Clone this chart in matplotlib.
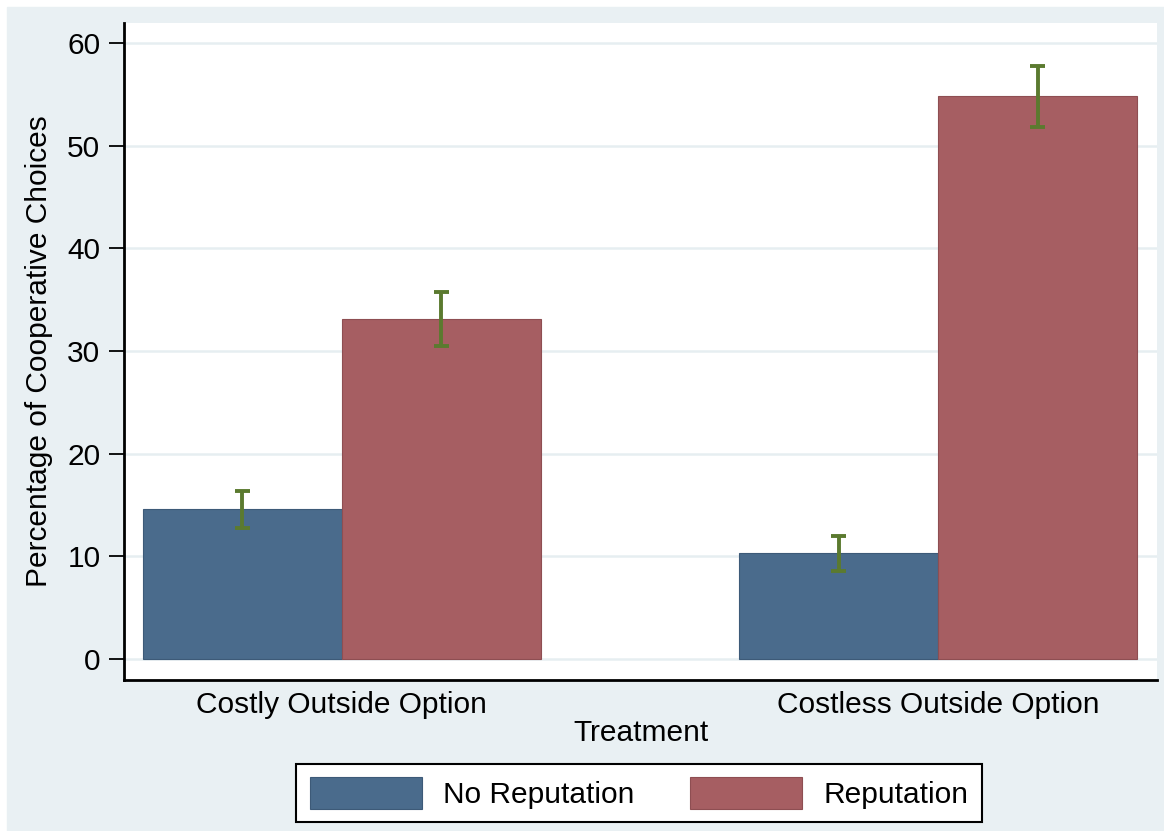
import matplotlib

matplotlib.use("Agg")
import matplotlib.pyplot as plt
from matplotlib.patches import Rectangle

# Mean cooperation rates with confidence bounds per treatment
treatments = ["Costly Outside Option", "Costless Outside Option"]
no_rep_mean = [14.6, 10.3]
no_rep_lo = [12.75, 8.6]
no_rep_hi = [16.4, 12.0]
rep_mean = [33.1, 54.8]
rep_lo = [30.5, 51.8]
rep_hi = [35.7, 57.8]
y_ticks = [0, 10, 20, 30, 40, 50, 60]

BLUE = "#4a6b8c"
RED = "#a65e62"
GREEN = "#5b7a2f"
PANEL = "#e9f0f3"
FS = 21.5

plt.rcParams["font.family"] = ["Liberation Sans", "DejaVu Sans"]

fig = plt.figure(figsize=(11.64, 8.31), dpi=100)
W, H = 1164, 831
panel = Rectangle((7 / W, 0), 1 - 7 / W, 1 - 7 / H,
                  transform=fig.transFigure, color=PANEL, zorder=-10)
fig.add_artist(panel)

ax = fig.add_axes([124 / W, 1 - 680 / H, (1157 - 124) / W, (680 - 23) / H])
ax.set_facecolor("white")

centers = [0.0, 3.0]
left_x = [c - 0.5 for c in centers]
right_x = [c + 0.5 for c in centers]

ax.bar(left_x, no_rep_mean, width=1.0, color=BLUE, edgecolor="#3d5a78",
       linewidth=0.8, zorder=2, label="No Reputation")
ax.bar(right_x, rep_mean, width=1.0, color=RED, edgecolor="#8e4e52",
       linewidth=0.8, zorder=2, label="Reputation")

cap = 0.038
for xs, lo, hi in ((left_x, no_rep_lo, no_rep_hi), (right_x, rep_lo, rep_hi)):
    ax.vlines(xs, lo, hi, color=GREEN, linewidth=2.8, zorder=3)
    ax.hlines(lo, [x - cap for x in xs], [x + cap for x in xs],
              color=GREEN, linewidth=2.8, zorder=3)
    ax.hlines(hi, [x - cap for x in xs], [x + cap for x in xs],
              color=GREEN, linewidth=2.8, zorder=3)

y0 = 659
ppu = (659 - 43) / 60
ax.set_ylim(-(680 - y0) / ppu, (y0 - 23) / ppu)
ax.set_xlim(-1 - 19 / 199, 4 + 20 / 199)

ax.set_yticks(y_ticks)
ax.set_yticklabels([str(t) for t in y_ticks], fontsize=FS)
ax.set_xticks(centers)
ax.set_xticklabels(treatments, fontsize=FS)
ax.tick_params(axis="y", length=11, width=1.3, pad=6, colors="black")
ax.tick_params(axis="x", length=0, pad=8)
ax.yaxis.grid(True, color="#e6eef1", linewidth=1.8, zorder=0)
ax.set_axisbelow(True)

for side in ("top", "right"):
    ax.spines[side].set_visible(False)
for side in ("left", "bottom"):
    ax.spines[side].set_linewidth(2.0)
    ax.spines[side].set_color("black")

ax.set_ylabel("Percentage of Cooperative Choices", fontsize=FS, labelpad=10)
ax.set_xlabel("Treatment", fontsize=FS, labelpad=0)

leg = fig.legend(loc="center", bbox_to_anchor=(639 / W, 1 - 793 / H),
                 ncol=2, fontsize=FS, frameon=True, fancybox=False,
                 framealpha=1.0, handlelength=3.75, handleheight=1.25,
                 columnspacing=1.85, handletextpad=0.72, borderpad=0.45)
leg.get_frame().set_edgecolor("black")
leg.get_frame().set_facecolor("white")
leg.get_frame().set_linewidth(1.5)

fig.savefig("out.png", dpi=100)
